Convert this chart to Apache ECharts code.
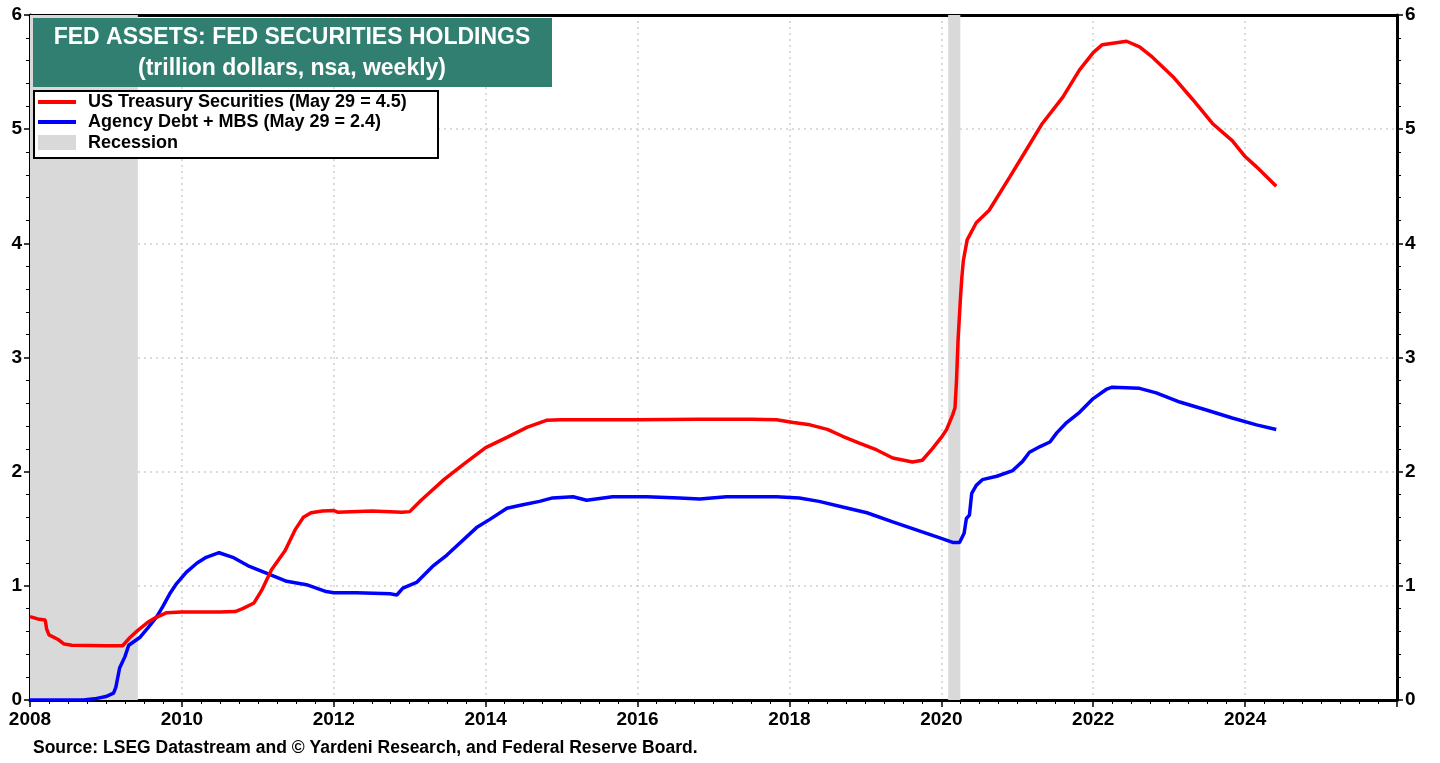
<!DOCTYPE html>
<html>
<head>
<meta charset="utf-8">
<script src="https://cdn.jsdelivr.net/npm/echarts@6/dist/echarts.min.js"></script>
<style>
  html, body { margin: 0; padding: 0; background: #fff; }
  #chart { width: 1440px; height: 763px; }
</style>
</head>
<body>
<div id="chart"></div>
<script>
// dates are decimal years, values in trillion dollars
const treasuryYears = [2008.00, 2008.10, 2008.20, 2008.22, 2008.25, 2008.37, 2008.45, 2008.55, 2009.00, 2009.22,
  2009.32, 2009.42, 2009.55, 2009.65, 2009.80, 2010.00, 2010.50, 2010.70, 2010.80, 2010.95,
  2011.05, 2011.18, 2011.36, 2011.49, 2011.60, 2011.70, 2011.85, 2012.00, 2012.05, 2012.50,
  2012.90, 2013.00, 2013.15, 2013.45, 2013.72, 2014.00, 2014.28, 2014.55, 2014.80, 2015.00,
  2016.00, 2016.80, 2017.50, 2017.83, 2018.05, 2018.27, 2018.50, 2018.70, 2018.92, 2019.15,
  2019.36, 2019.62, 2019.75, 2019.88, 2020.00, 2020.07, 2020.15, 2020.18, 2020.20, 2020.22,
  2020.25, 2020.27, 2020.29, 2020.34, 2020.46, 2020.63, 2020.90, 2021.12, 2021.33, 2021.60,
  2021.82, 2022.00, 2022.12, 2022.44, 2022.61, 2022.78, 2023.05, 2023.31, 2023.57, 2023.83,
  2024.00, 2024.15, 2024.41];
const treasuryValues = [0.73, 0.71, 0.70, 0.62, 0.57, 0.53, 0.49, 0.48, 0.475, 0.475,
  0.55, 0.61, 0.68, 0.72, 0.765, 0.77, 0.77, 0.775, 0.80, 0.85,
  0.96, 1.14, 1.31, 1.49, 1.60, 1.64, 1.655, 1.66, 1.645, 1.655,
  1.645, 1.65, 1.75, 1.93, 2.07, 2.21, 2.30, 2.39, 2.45, 2.455,
  2.455, 2.46, 2.46, 2.455, 2.43, 2.41, 2.37, 2.31, 2.25, 2.19,
  2.12, 2.085, 2.10, 2.20, 2.30, 2.37, 2.50, 2.56, 2.80, 3.15,
  3.50, 3.70, 3.85, 4.03, 4.18, 4.29, 4.58, 4.82, 5.05, 5.28,
  5.52, 5.67, 5.74, 5.77, 5.72, 5.63, 5.46, 5.26, 5.05, 4.90,
  4.76, 4.67, 4.50];

const agencyYears = [2008.00, 2008.70, 2008.85, 2009.00, 2009.10, 2009.13, 2009.18, 2009.25, 2009.30, 2009.45,
  2009.55, 2009.67, 2009.75, 2009.84, 2009.93, 2010.06, 2010.20, 2010.32, 2010.49, 2010.67,
  2010.89, 2011.12, 2011.38, 2011.64, 2011.90, 2012.00, 2012.30, 2012.74, 2012.83, 2012.91,
  2013.09, 2013.30, 2013.49, 2013.88, 2014.05, 2014.28, 2014.49, 2014.71, 2014.88, 2015.15,
  2015.33, 2015.67, 2016.12, 2016.55, 2016.82, 2017.17, 2017.83, 2018.13, 2018.39, 2018.70,
  2019.02, 2019.36, 2019.67, 2019.98, 2020.15, 2020.24, 2020.30, 2020.33, 2020.37, 2020.40,
  2020.46, 2020.54, 2020.73, 2020.94, 2021.07, 2021.16, 2021.30, 2021.43, 2021.52, 2021.65,
  2021.82, 2022.00, 2022.17, 2022.25, 2022.61, 2022.83, 2023.14, 2023.49, 2023.83, 2024.15,
  2024.41];
const agencyValues = [0, 0, 0.01, 0.03, 0.06, 0.11, 0.28, 0.38, 0.48, 0.55,
  0.63, 0.73, 0.82, 0.93, 1.02, 1.12, 1.20, 1.25, 1.29, 1.25,
  1.17, 1.11, 1.04, 1.01, 0.95, 0.94, 0.94, 0.93, 0.92, 0.98,
  1.03, 1.17, 1.27, 1.51, 1.58, 1.68, 1.71, 1.74, 1.77, 1.78,
  1.75, 1.78, 1.78, 1.77, 1.76, 1.78, 1.78, 1.77, 1.74, 1.69,
  1.64, 1.56, 1.49, 1.42, 1.38, 1.38, 1.46, 1.59, 1.62, 1.81,
  1.88, 1.93, 1.96, 2.01, 2.09, 2.17, 2.22, 2.26, 2.34, 2.43,
  2.52, 2.64, 2.72, 2.74, 2.73, 2.69, 2.61, 2.54, 2.47, 2.41,
  2.37];

const recessionStart = [2008.0, 2020.09];
const recessionEnd = [2009.42, 2020.25];

const yTicks = [0, 1, 2, 3, 4, 5, 6];

const FONT = '"Liberation Sans", Arial, sans-serif';

const chart = echarts.init(document.getElementById('chart'));

const pairs = (xs, ys) => xs.map((x, i) => [x, ys[i]]);

const dotted = {
  show: true, showMinLine: false, showMaxLine: false,
  lineStyle: { color: '#cfcfcf', type: [2, 4], width: 1.5 }
};

const yAxisBase = {
  type: 'value',
  min: yTicks[0],
  max: yTicks[yTicks.length - 1],
  interval: 1,
  axisLine: { show: true, onZero: false, lineStyle: { color: '#000', width: 3 } },
  axisTick: { show: true, length: 6, lineStyle: { color: '#000', width: 1.5 } },
  minorTick: { show: true, splitNumber: 5, length: 4, lineStyle: { color: '#000', width: 1 } },
  axisLabel: { color: '#000', fontFamily: FONT, fontWeight: 'bold', fontSize: 19, margin: 8 },
};

const option = {
  animation: false,
  grid: { left: 30, right: 43, top: 15, bottom: 63 },
  xAxis: [
    {
      type: 'value',
      min: 2008,
      max: 2026,
      interval: 2,
      axisLine: { show: true, onZero: false, lineStyle: { color: '#000', width: 3 } },
      axisTick: { show: true, length: 7, lineStyle: { color: '#000', width: 1.5 } },
      minorTick: { show: true, splitNumber: 8, length: 4, lineStyle: { color: '#000', width: 1 } },
      axisLabel: {
        color: '#000', fontFamily: FONT, fontWeight: 'bold', fontSize: 19, margin: 10,
        formatter: (v) => (v >= 2026 ? '' : String(v))
      },
      splitLine: dotted
    },
    {
      type: 'value',
      position: 'top',
      min: 2008,
      max: 2026,
      interval: 2,
      axisLine: { show: true, onZero: false, lineStyle: { color: '#000', width: 3 } },
      axisTick: { show: false },
      axisLabel: { show: false },
      splitLine: { show: false }
    }
  ],
  yAxis: [
    Object.assign({}, yAxisBase, { position: 'left', splitLine: dotted }),
    Object.assign({}, yAxisBase, { position: 'right', splitLine: { show: false } })
  ],
  series: [
    {
      name: 'Recession',
      type: 'line',
      data: [],
      markArea: {
        silent: true,
        itemStyle: { color: '#d9d9d9' },
        data: recessionStart.map((s, i) => [{ xAxis: s }, { xAxis: recessionEnd[i] }])
      }
    },
    {
      name: 'Agency Debt + MBS',
      type: 'line',
      data: pairs(agencyYears, agencyValues),
      showSymbol: false,
      lineStyle: { color: '#0000ff', width: 3.5 },
      z: 3
    },
    {
      name: 'US Treasury Securities',
      type: 'line',
      data: pairs(treasuryYears, treasuryValues),
      showSymbol: false,
      lineStyle: { color: '#ff0000', width: 3.5 },
      z: 4
    }
  ],
  graphic: [
    {
      type: 'rect', left: 33, top: 18, z: 10,
      shape: { width: 519, height: 69 },
      style: { fill: '#317f70' }
    },
    {
      type: 'text', x: 292, y: 38, z: 11,
      style: {
        text: 'FED ASSETS: FED SECURITIES HOLDINGS', fill: '#fff',
        font: 'bold 23px ' + FONT, align: 'center', verticalAlign: 'middle'
      }
    },
    {
      type: 'text', x: 292, y: 69, z: 11,
      style: {
        text: '(trillion dollars, nsa, weekly)', fill: '#fff',
        font: 'bold 23px ' + FONT, align: 'center', verticalAlign: 'middle'
      }
    },
    {
      type: 'rect', left: 33, top: 90, z: 10,
      shape: { width: 404, height: 67 },
      style: { fill: '#fff', stroke: '#000', lineWidth: 2 }
    },
    {
      type: 'line', z: 11,
      shape: { x1: 38, y1: 102, x2: 76, y2: 102 },
      style: { stroke: '#ff0000', lineWidth: 4 }
    },
    {
      type: 'line', z: 11,
      shape: { x1: 38, y1: 122, x2: 76, y2: 122 },
      style: { stroke: '#0000ff', lineWidth: 4 }
    },
    {
      type: 'rect', left: 38, top: 135, z: 11,
      shape: { width: 38, height: 15 },
      style: { fill: '#d9d9d9' }
    },
    {
      type: 'text', x: 88, y: 102, z: 11,
      style: { text: 'US Treasury Securities (May 29 = 4.5)', fill: '#000', font: 'bold 18px ' + FONT, verticalAlign: 'middle' }
    },
    {
      type: 'text', x: 88, y: 122, z: 11,
      style: { text: 'Agency Debt + MBS (May 29 = 2.4)', fill: '#000', font: 'bold 18px ' + FONT, verticalAlign: 'middle' }
    },
    {
      type: 'text', x: 88, y: 143, z: 11,
      style: { text: 'Recession', fill: '#000', font: 'bold 18px ' + FONT, verticalAlign: 'middle' }
    },
    {
      type: 'text', x: 33, y: 748, z: 11,
      style: {
        text: 'Source: LSEG Datastream and \u00a9 Yardeni Research, and Federal Reserve Board.',
        fill: '#000', font: 'bold 17.5px ' + FONT, verticalAlign: 'middle'
      }
    }
  ]
};

chart.setOption(option);
</script>
</body>
</html>
